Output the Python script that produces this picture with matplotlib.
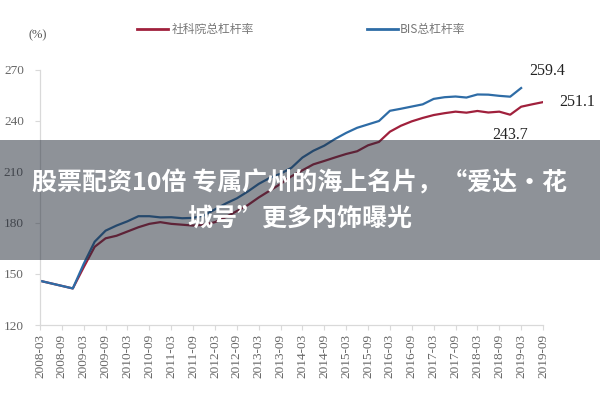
import numpy as np
import matplotlib
matplotlib.use('Agg')
from matplotlib import pyplot as plt
from matplotlib.patches import Rectangle

# quarterly total leverage, 2008-03 .. 2019-09 (CASS) / 2019-03 (BIS)
cass_lev = [146, 144.5, 143, 141.5, 154, 166, 171, 172.5, 175, 177.5,
            179.5, 180.5, 179.5, 179, 178.5, 179, 180.5, 183.5, 187, 190.5,
            195, 199, 203, 207.5, 211, 214.5, 216.5, 218.6, 220.6, 222.2,
            225.7, 227.7, 233.7, 237.2, 239.8, 241.8, 243.5, 244.6, 245.5, 244.9,
            245.9, 245, 245.5, 243.7, 248.4, 249.8, 251.1]
bis_lev = [146, 144.5, 143, 141.5, 156, 169, 175.5, 178.5, 181, 184,
           184, 183.3, 183.4, 182.8, 183, 184.5, 188, 191.5, 194.5, 198.5,
           203, 206.5, 209, 212.5, 218.5, 222.5, 225.5, 229.5, 233, 236,
           238, 240, 246, 247.2, 248.5, 249.8, 253, 254, 254.4, 253.8,
           255.6, 255.5, 254.8, 254.3, 259.4]
tick_labels = ['2008-03', '2008-09', '2009-03', '2009-09', '2010-03', '2010-09',
               '2011-03', '2011-09', '2012-03', '2012-09', '2013-03', '2013-09',
               '2014-03', '2014-09', '2015-03', '2015-09', '2016-03', '2016-09',
               '2017-03', '2017-09', '2018-03', '2018-09', '2019-03', '2019-09']
yticks = [120, 150, 180, 210, 240, 270]

plt.rcParams['font.family'] = ['Noto Sans CJK SC', 'DejaVu Sans']

red = '#a0203c'
blue = '#2e6ca6'
grey = '#d9d9d9'

fig = plt.figure(figsize=(6, 4), dpi=100)
ax = fig.add_axes([40/600, 75/400, 503/600, 255/400])

x_red = np.arange(len(cass_lev))
x_blue = np.arange(len(bis_lev))
ax.plot(x_red, cass_lev, color=red, lw=1.6)
ax.plot(x_blue, bis_lev, color=blue, lw=1.6)

ax.set_xlim(0, 46)
ax.set_ylim(120, 270)
ax.set_xticks(np.arange(0, 47, 2))
ax.set_xticklabels(tick_labels, rotation=90, family='Liberation Serif',
                   fontsize=9.5, color='#666666')
ax.set_yticks(yticks)
ax.set_yticklabels([str(v) for v in yticks], family='Liberation Serif',
                   fontsize=9.5, color='#666666')
ax.tick_params(axis='both', length=3.6, width=0.8, color=grey)
ax.tick_params(axis='y', pad=8)
ax.tick_params(axis='x', pad=3)
for s in ['top', 'right']:
    ax.spines[s].set_visible(False)
for s in ['left', 'bottom']:
    ax.spines[s].set_color(grey)
    ax.spines[s].set_linewidth(0.9)

# end-of-series labels
ax.annotate(f'{bis_lev[-1]:.1f}', (len(bis_lev)-1, bis_lev[-1]), xytext=(19, 12),
            textcoords='offset points', ha='center', va='center',
            family='Liberation Serif', fontsize=11.5, color='#222222')
ax.annotate(f'{cass_lev[-1]:.1f}', (len(cass_lev)-1, cass_lev[-1]), xytext=(24.5, 0),
            textcoords='offset points', ha='center', va='center',
            family='Liberation Serif', fontsize=11.5, color='#222222')
ax.annotate(f'{cass_lev[43]:.1f}', (43, cass_lev[43]), xytext=(0, -14.5),
            textcoords='offset points', ha='center', va='center',
            family='Liberation Serif', fontsize=11.5, color='#222222')

# unit and legend
fig.text(38/600, 1 - 35/400, '(%)', ha='center', va='center',
         family='Liberation Serif', fontsize=9, color='#555555')
fig.add_artist(plt.Line2D([137/600, 168/600], [1 - 29/400, 1 - 29/400], color=red, lw=2))
fig.text(172/600, 1 - 29/400, '社科院总杠杆率', ha='left', va='center',
         fontsize=8.5, color='#777777')
fig.add_artist(plt.Line2D([367/600, 398/600], [1 - 29/400, 1 - 29/400], color=blue, lw=2))
fig.text(400/600, 1 - 29/400, 'BIS总杠杆率', ha='left', va='center',
         fontsize=8.5, color='#777777')

# overlay banner
fig.add_artist(Rectangle((0, 140/400), 1, 120/400, transform=fig.transFigure,
                         facecolor='#1e2633', alpha=0.5, edgecolor='none', zorder=5))
fig.text(0.5, 1 - 183/400, '股票配资10倍 专属广州的海上名片，“爱达·花', ha='center',
         va='center', fontsize=18, weight='bold', color='white', zorder=6)
fig.text(0.5, 1 - 219/400, '城号”更多内饰曝光', ha='center',
         va='center', fontsize=18, weight='bold', color='white', zorder=6)

fig.savefig('out.png', dpi=100)
